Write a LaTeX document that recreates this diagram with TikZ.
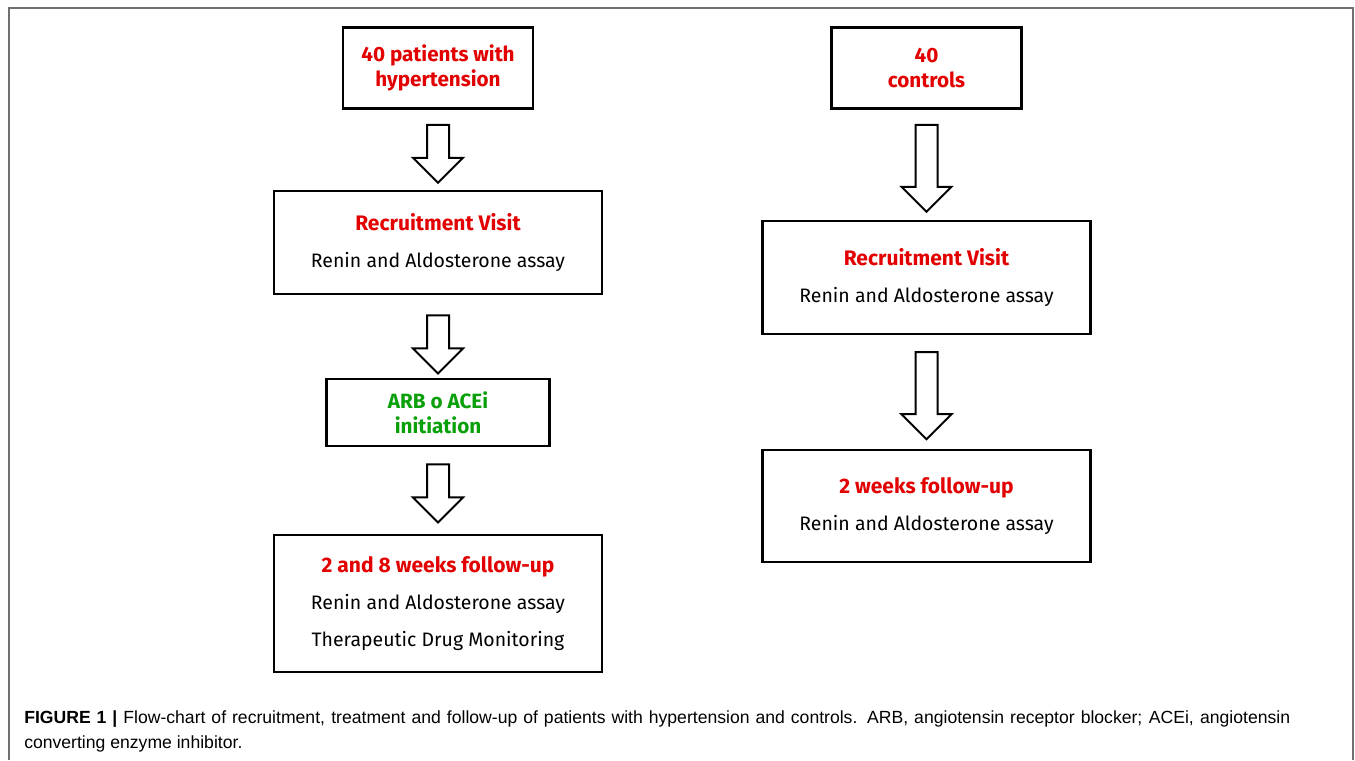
\documentclass[tikz,border=0pt]{standalone}
\usepackage{fontspec}
\setmainfont{Fira Sans}
\newfontfamily\capfont{Liberation Sans}
\usepackage{tikz}
\usepackage{xcolor}
\usetikzlibrary{shapes.arrows,calc,positioning}
\definecolor{titlered}{RGB}{226,0,0}
\definecolor{titlegreen}{RGB}{10,160,10}
\definecolor{framegray}{RGB}{112,112,112}
\tikzstyle{stage} = [rectangle, draw, line width=1.9pt, fill=white, align=center, minimum width=246pt, font=\fontsize{14.6}{28}\selectfont]
\tikzstyle{headstage} = [stage, minimum width=142.5pt, minimum height=60.75pt, font=\bfseries\fontsize{15.5}{18.75}\selectfont]
\tikzstyle{blockarr} = [single arrow, draw, line width=1.5pt, rotate=-90, anchor=tail, inner sep=0pt, inner ysep=7.5pt, minimum width=36pt, single arrow head extend=10.5pt]
\newcommand{\stagetitle}[1]{{\bfseries\fontsize{15.75}{28}\selectfont\color{titlered}#1}}

\begin{document}
\begin{tikzpicture}[x=0.75pt,y=-0.75pt]
  \useasboundingbox (0,0) rectangle (1355,760);
  \draw[framegray, line width=1.5pt] (9,760) -- (9,8) -- (1353,8) -- (1353,760);

  % hypertension branch
  \node[headstage, text=titlered] (pat) at (438,68) {40 patients with\\hypertension};
  \node[stage, minimum height=77.25pt] (rv1) [below of=pat, node distance=131pt] {\stagetitle{Recruitment Visit}\\Renin and Aldosterone assay};
  \node[headstage, minimum width=167.25pt, minimum height=50.25pt, text=titlegreen] (trt) [below of=rv1, node distance=127.5pt] {ARB o ACEi\\initiation};
  \node[stage, minimum height=102.75pt] (fu1) [below of=trt, node distance=143.25pt] {\stagetitle{2 and 8 weeks follow-up}\\Renin and Aldosterone assay\\Therapeutic Drug Monitoring};

  % control branch
  \node[headstage, text=titlered] (ctrl) at (926.5,68) {40\\controls};
  \node[stage, minimum height=84.75pt] (rv2) [below of=ctrl, node distance=157.1pt] {\stagetitle{Recruitment Visit}\\Renin and Aldosterone assay};
  \node[stage, minimum height=84pt] (fu2) [below of=rv2, node distance=171.4pt] {\stagetitle{2 weeks follow-up}\\Renin and Aldosterone assay};

  % block arrows
  \node[blockarr, minimum height=43.5pt] (a1) at ($(pat.south)+(0,14)$) {};
  \node[blockarr, minimum height=43.5pt] (a2) at ($(rv1.south)+(0,19)$) {};
  \node[blockarr, minimum height=43.5pt] (a3) at ($(trt.south)+(0,16)$) {};
  \node[blockarr, minimum height=65.25pt] (a4) at ($(ctrl.south)+(0,14)$) {};
  \node[blockarr, minimum height=65.25pt] (a5) at ($(rv2.south)+(0,16)$) {};

  % caption
  \node[anchor=base west, inner sep=0pt, align=left, font=\capfont\fontsize{13.2}{18.75}\selectfont] (cap) at (24,748) {\makebox[949.5pt][s]{\textbf{FIGURE 1 |} Flow-chart of recruitment, treatment and follow-up of patients with hypertension and controls. ARB, angiotensin receptor blocker; ACEi, angiotensin}\\converting enzyme inhibitor.};
\end{tikzpicture}
\end{document}
